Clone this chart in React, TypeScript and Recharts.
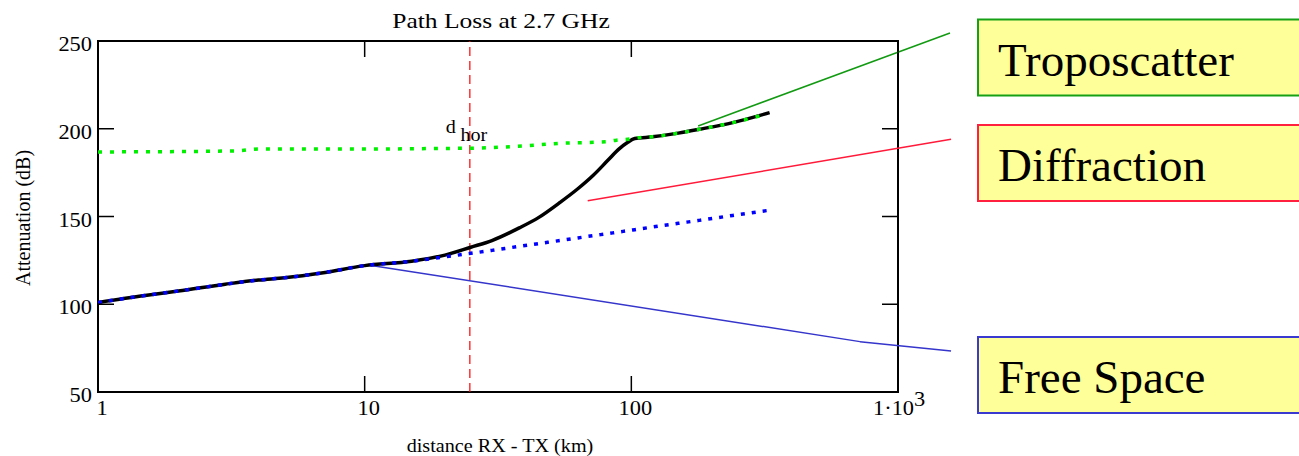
import React from 'react';
import { LineChart, Line, XAxis, YAxis, ReferenceLine, ReferenceArea } from 'recharts';

// distances (km) and attenuation (dB)
const distKm = [1, 1.5, 2, 3, 4, 5, 7, 10, 15, 20, 25, 30, 38, 45, 54, 63, 72, 82, 90, 97, 103, 120, 150, 180, 240, 330];
const totalLoss = [101, 105, 107.5, 111.4, 113.8, 115.1, 118, 122, 124.5, 128, 132.5, 136.3, 143.5, 149.5, 158, 165.8, 173.5, 182.3, 188.5, 192.3, 194.4, 195.4, 197.5, 199.7, 203.5, 209.2];
const freeSpaceLoss = [101, 105, 107.5, 111.4, 113.8, 115.1, 118, 122, 124.5, 127, 129, 130.7, 133, 134.6, 136.3, 137.8, 139.1, 140.3, 141.2, 141.9, 142.5, 144, 146.1, 147.8, 150.6, 153.6];
const tropoDist = [1, 2, 3, 3.4, 4, 5, 10, 20, 25, 40, 54, 80, 88, 97, 106, 120, 150, 180, 240, 312];
const tropoLoss = [186.8, 187, 187.3, 187.5, 188.5, 188.5, 188.4, 188.8, 188.9, 190.3, 191.7, 192.6, 193.5, 194, 194.9, 195.5, 197.5, 199.7, 203.5, 207.8];

const dHor = 24.8;
const xTicks = [1, 10, 100, 1000];
const yTicks = [50, 100, 150, 200, 250];

// callout pointers (d, dB) — they run past the plot frame towards the labels
const tropoPointer = [{ x: 178, y: 201.6 }, { x: 1567, y: 254.6 }];
const diffPointer = [{ x: 68.6, y: 159 }, { x: 1581, y: 194 }];
const freePointer = [{ x: 10.3, y: 122.4 }, { x: 720, y: 78.7 }, { x: 1581, y: 73.4 }];

const totalData = distKm.map((d, i) => ({ d, v: totalLoss[i] }));
const freeData = distKm.map((d, i) => ({ d, v: freeSpaceLoss[i] }));
const tropoData = tropoDist.map((d, i) => ({ d, v: tropoLoss[i] }));

const W = 1299;
const H = 456;
const PLOT_TOP = 41;
const PLOT_BOTTOM = 392;
const PLOT_LEFT = 98;
const PLOT_RIGHT = 898;
const SERIF = '"Liberation Serif", "Times New Roman", serif';
const SX = 1.12;

const XTick = (p: any) => {
  const { x, payload } = p;
  const v = payload.value;
  return (
    <g>
      <line x1={x} x2={x} y1={PLOT_BOTTOM} y2={PLOT_BOTTOM - 16} stroke="#000" strokeWidth={1.5} />
      <line x1={x} x2={x} y1={PLOT_TOP} y2={PLOT_TOP + 16} stroke="#000" strokeWidth={1.5} />
      {v === 1000 ? (
        <text transform={`translate(${x - 25},415) scale(${SX},1)`} fontFamily={SERIF} fontSize={20} fill="#000">
          1·10<tspan dy={-9}>3</tspan>
        </text>
      ) : (
        <text transform={`translate(${x + 4},415) scale(${SX},1)`} textAnchor="middle" fontFamily={SERIF} fontSize={20} fill="#000">
          {v}
        </text>
      )}
    </g>
  );
};

const YTick = (p: any) => {
  const { y, payload } = p;
  return (
    <g>
      <line x1={PLOT_LEFT} x2={PLOT_LEFT + 16} y1={y} y2={y} stroke="#000" strokeWidth={1.5} />
      <line x1={PLOT_RIGHT} x2={PLOT_RIGHT - 16} y1={y} y2={y} stroke="#000" strokeWidth={1.5} />
      <text transform={`translate(92,${y + 10}) scale(${SX},1)`} textAnchor="end" fontFamily={SERIF} fontSize={20} fill="#000">
        {payload.value}
      </text>
    </g>
  );
};

const HorLabel = (p: any) => {
  const vb = p.viewBox || {};
  return (
    <text fontFamily={SERIF} fontSize={18} fill="#000" transform={`translate(${vb.x - 24},${vb.y + 92}) scale(${SX},1)`}>
      d<tspan dx={4} dy={8}>hor</tspan>
    </text>
  );
};

const Callout = ({ y, color, text }: { y: number; color: string; text: string }) => (
  <g>
    <rect x={978} y={y} width={340} height={76} fill="#ffff99" stroke={color} strokeWidth={2} />
    <text x={998} y={y + 56} fontFamily={SERIF} fontSize={47} fill="#000">{text}</text>
  </g>
);

export default function App() {
  return (
    <div style={{ position: 'absolute', left: 0, top: 0, width: W, height: H, overflow: 'hidden', background: '#fff' }}>
      <LineChart width={W} height={H} margin={{ top: PLOT_TOP, right: W - PLOT_RIGHT, bottom: 0, left: 0 }}>
        <XAxis
          dataKey="d"
          type="number"
          scale="log"
          domain={[1, 1000]}
          ticks={xTicks}
          interval={0}
          allowDataOverflow
          axisLine={false}
          tickLine={false}
          tickSize={0}
          height={H - PLOT_BOTTOM}
          tick={(p: any) => <XTick {...p} />}
        />
        <YAxis
          type="number"
          domain={[50, 250]}
          ticks={yTicks}
          interval={0}
          allowDataOverflow
          axisLine={false}
          tickLine={false}
          tickSize={0}
          width={PLOT_LEFT}
          tick={(p: any) => <YTick {...p} />}
        />
        <ReferenceArea x1={1} x2={1000} y1={50} y2={250} fill="none" stroke="#000" strokeWidth={2} ifOverflow="visible" />
        <ReferenceLine x={dHor} stroke="#ff0000" strokeWidth={1.2} strokeDasharray="9 5" label={(p: any) => <HorLabel {...p} />} />

        <ReferenceLine segment={tropoPointer} stroke="#129a12" strokeWidth={1.5} ifOverflow="visible" />
        <ReferenceLine segment={diffPointer} stroke="#ff1a3a" strokeWidth={1.5} ifOverflow="visible" />
        <ReferenceLine segment={[freePointer[0], freePointer[1]]} stroke="#3535cc" strokeWidth={1.5} ifOverflow="visible" />
        <ReferenceLine segment={[freePointer[1], freePointer[2]]} stroke="#3535cc" strokeWidth={1.5} ifOverflow="visible" />

        <Line data={totalData} dataKey="v" type="monotone" stroke="#000" strokeWidth={3.5} dot={false} isAnimationActive={false} />
        <Line data={freeData} dataKey="v" type="monotone" stroke="#0000ff" strokeWidth={3.5} strokeDasharray="4 7" dot={false} isAnimationActive={false} />
        <Line data={tropoData} dataKey="v" type="monotone" stroke="#00f000" strokeWidth={3.5} strokeDasharray="4 8" dot={false} isAnimationActive={false} />
      </LineChart>

      <svg width={W} height={H} style={{ position: 'absolute', left: 0, top: 0, pointerEvents: 'none' }}>
        <text transform="translate(501,28) scale(1.16,1)" textAnchor="middle" fontFamily={SERIF} fontSize={22} fill="#000">
          Path Loss at 2.7 GHz
        </text>
        <text transform={`translate(500,452) scale(${SX},1)`} textAnchor="middle" fontFamily={SERIF} fontSize={18} fill="#000">
          distance RX - TX (km)
        </text>
        <text transform="translate(30,218) rotate(-90)" textAnchor="middle" fontFamily={SERIF} fontSize={20} fill="#000">
          Attenuation (dB)
        </text>
        <Callout y={19.5} color="#16a016" text="Troposcatter" />
        <Callout y={125} color="#ff2040" text="Diffraction" />
        <Callout y={337} color="#3a3ad0" text="Free Space" />
      </svg>
    </div>
  );
}
